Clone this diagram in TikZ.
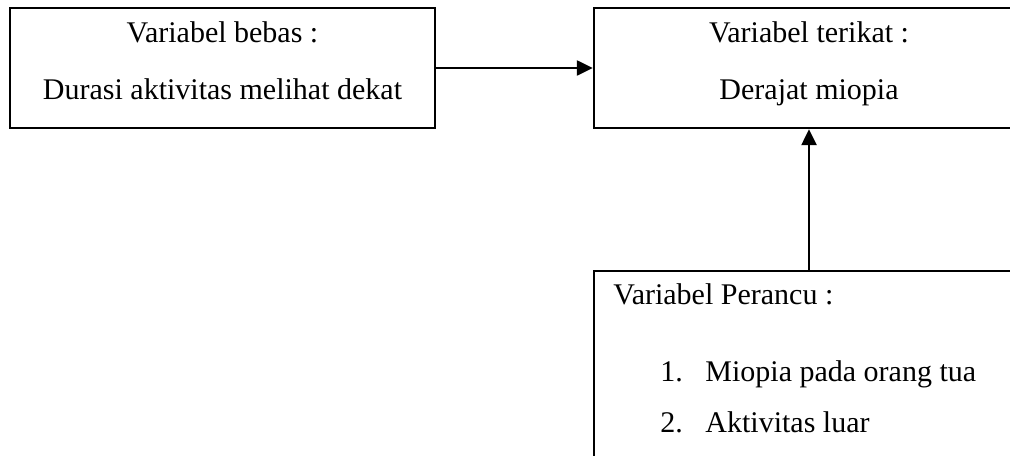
\documentclass[tikz,border=0pt]{standalone}
\usepackage{fontspec}
\setmainfont{Liberation Serif}
\usetikzlibrary{arrows.meta}

\tikzset{
  varbox/.style={draw, line width=1.2pt, rectangle, inner sep=0pt},
  label/.style={inner sep=0pt, font=\fontsize{15}{18}\selectfont},
  link/.style={line width=1.2pt, -{Triangle[length=8pt,width=7.5pt]}}
}

\begin{document}
\begin{tikzpicture}[x=0.5pt,y=-0.5pt]
  \useasboundingbox (0,0) rectangle (1010,455);
  \clip (0,0) rectangle (1010,455);

  % boxes
  \node[varbox, minimum width=212.5pt, minimum height=60pt] (bebas) at (222.5,68) {};
  \node[varbox, minimum width=215pt, minimum height=60pt] (terikat) at (809,68) {};
  \node[varbox, minimum width=215pt, minimum height=100pt] (perancu) at (809,371) {};

  % independent variable
  \node[label, anchor=base] (bebasA) at (222.5,42) {Variabel bebas :};
  \node[label, anchor=base] (bebasB) at (222.5,99) {Durasi aktivitas melihat dekat};

  % dependent variable
  \node[label, anchor=base] (terikatA) at (809,42) {Variabel terikat :};
  \node[label, anchor=base] (terikatB) at (809,99) {Derajat miopia};

  % confounding variables
  \node[label, anchor=base west] (perancuA) at (613,304) {Variabel Perancu :};
  \node[label, anchor=base west] (n1) at (660,381) {1.};
  \node[label, anchor=base west] (i1) at (705,381) {Miopia pada orang tua};
  \node[label, anchor=base west] (n2) at (660,432) {2.};
  \node[label, anchor=base west] (i2) at (705,432) {Aktivitas luar};

  % relations
  \draw[link] (bebas) -- (terikat);
  \draw[link] (perancu) -- (terikat);
\end{tikzpicture}
\end{document}
